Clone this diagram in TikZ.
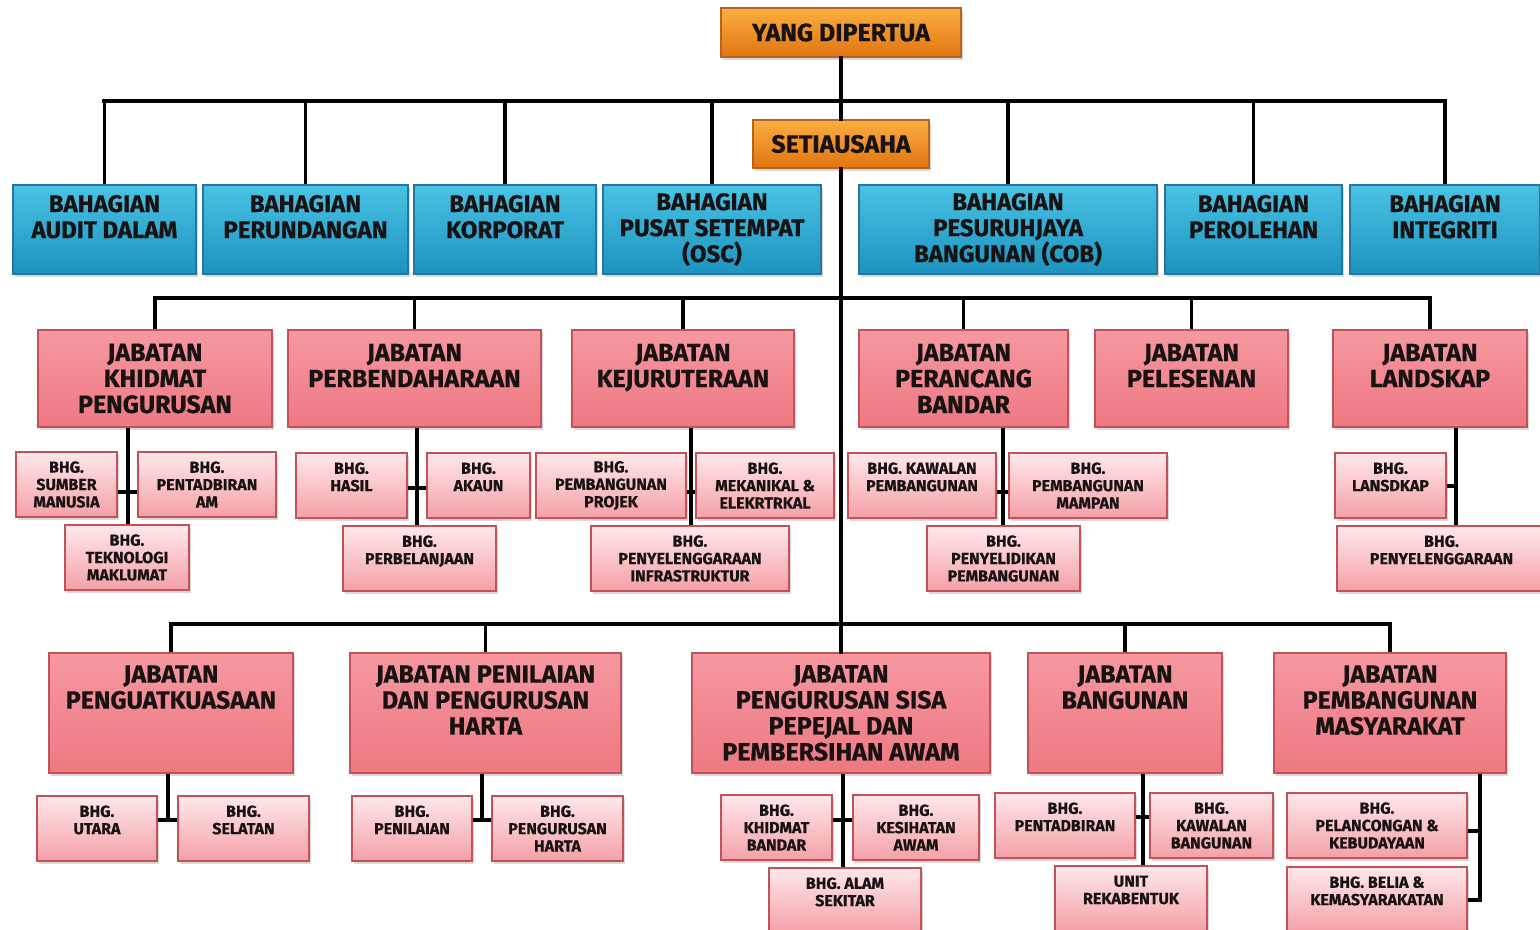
\documentclass[tikz,border=0pt]{standalone}
\usepackage{fontspec}
\setmainfont{Fira Sans}[BoldFeatures={FakeBold=0.6}]
\usetikzlibrary{calc,shadows}
\definecolor{oren1}{RGB}{250,174,64}
\definecolor{oren2}{RGB}{226,116,16}
\definecolor{orenb}{RGB}{186,98,28}
\definecolor{biru1}{RGB}{74,194,228}
\definecolor{biru2}{RGB}{28,146,190}
\definecolor{birub}{RGB}{38,118,156}
\definecolor{merah1}{RGB}{246,152,160}
\definecolor{merah2}{RGB}{238,120,130}
\definecolor{merahb}{RGB}{194,82,88}
\definecolor{jambu1}{RGB}{254,232,234}
\definecolor{jambu2}{RGB}{244,160,168}
\definecolor{teks}{RGB}{24,18,18}
\tikzset{
  kotak/.style={rectangle, draw, line width=0.8pt, inner sep=0pt, align=center, text=teks,
    drop shadow={shadow xshift=1.2pt, shadow yshift=-1.5pt, opacity=0.3}},
  ketua/.style={kotak, draw=orenb, top color=oren1, bottom color=oren2,
    font=\fontsize{12.5}{13}\selectfont\bfseries},
  bahagian/.style={kotak, draw=birub, top color=biru1, bottom color=biru2,
    font=\fontsize{12}{13}\selectfont\bfseries},
  jabatan/.style={kotak, draw=merahb, top color=merah1, bottom color=merah2,
    font=\fontsize{12.5}{13}\selectfont\bfseries},
  unitbox/.style={kotak, draw=merahb, top color=jambu1, bottom color=jambu2,
    font=\fontsize{8}{8.7}\selectfont\bfseries},
  garis/.style={line width=2.2pt, black, line cap=rect},
  cabang/.style={line width=1.6pt, black},
  sambung/.style={line width=2pt, black}
}
\begin{document}
\begin{tikzpicture}[x=0.5pt,y=-0.5pt]
\useasboundingbox (0,0) rectangle (1540,930);
%Koordinat dalam piksel gambar asal (y ke bawah)
\node[ketua, minimum width=120pt, minimum height=24.5pt] (ydp) at (841,32.5) {YANG DIPERTUA};
\node[ketua, minimum width=88pt, minimum height=24pt] (setia) at (841,144) {SETIAUSAHA};
%Bahagian
\foreach \nm/\xa/\xb/\txt in {b1/13/196/{BAHAGIAN\\AUDIT DALAM\\~}, b2/203/408/{BAHAGIAN\\PERUNDANGAN\\~},
  b3/414/596/{BAHAGIAN\\KORPORAT\\~}, b4/603/821/{BAHAGIAN\\PUSAT SETEMPAT\\(OSC)},
  b5/859/1157/{BAHAGIAN\\PESURUHJAYA\\BANGUNAN (COB)}, b6/1165/1342/{BAHAGIAN\\PEROLEHAN\\~},
  b7/1350/1540/{BAHAGIAN\\INTEGRITI\\~}}{
\node[bahagian, minimum width={(\xb-\xa)*0.5pt}, minimum height=44.5pt] (\nm) at ({(\xa+\xb)/2},229.5) {\txt};
}
%Jabatan baris 1
\foreach \nm/\xa/\xb/\txt in {j1/38/272/{JABATAN\\KHIDMAT\\PENGURUSAN}, j2/288/541/{JABATAN\\PERBENDAHARAAN\\~},
  j3/572/794/{JABATAN\\KEJURUTERAAN\\~}, j4/859/1068/{JABATAN\\PERANCANG\\BANDAR},
  j5/1095/1288/{JABATAN\\PELESENAN\\~}, j6/1333/1527/{JABATAN\\LANDSKAP\\~}}{
\node[jabatan, minimum width={(\xb-\xa)*0.5pt}, minimum height=48.5pt] (\nm) at ({(\xa+\xb)/2},378.5) {\txt};
}
%Jabatan baris 2
\foreach \nm/\xa/\xb/\txt in {k1/49/293/{JABATAN\\PENGUATKUASAAN\\~\\~}, k2/350/621/{JABATAN PENILAIAN\\DAN PENGURUSAN\\HARTA\\~},
  k3/692/990/{JABATAN\\PENGURUSAN SISA\\PEPEJAL DAN\\PEMBERSIHAN AWAM}, k4/1028/1222/{JABATAN\\BANGUNAN\\~\\~},
  k5/1274/1506/{JABATAN\\PEMBANGUNAN\\MASYARAKAT\\~}}{
\node[jabatan, minimum width={(\xb-\xa)*0.5pt}, minimum height=60pt] (\nm) at ({(\xa+\xb)/2},713) {\txt};
}
%Bahagian kecil (BHG.)
\foreach \nm/\xa/\ya/\xb/\yb/\txt in {
  s11/16/452/117/517/{BHG.\\SUMBER\\MANUSIA}, s12/138/452/276/517/{BHG.\\PENTADBIRAN\\AM},
  s13/65/525/189/590/{BHG.\\TEKNOLOGI\\MAKLUMAT},
  s21/296/453/407/518/{BHG.\\HASIL\\~}, s22/427/453/530/518/{BHG.\\AKAUN\\~},
  s23/343/526/496/591/{BHG.\\PERBELANJAAN\\~},
  s31/536/453/686/518/{BHG.\\PEMBANGUNAN\\PROJEK}, s32/696/453/834/518/{BHG.\\MEKANIKAL \&\\ELEKRTRKAL},
  s33/591/526/789/591/{BHG.\\PENYELENGGARAAN\\INFRASTRUKTUR},
  s41/848/453/996/518/{BHG. KAWALAN\\PEMBANGUNAN\\~}, s42/1009/453/1167/518/{BHG.\\PEMBANGUNAN\\MAMPAN},
  s43/927/526/1080/591/{BHG.\\PENYELIDIKAN\\PEMBANGUNAN},
  s61/1335/453/1446/518/{BHG.\\LANSDKAP\\~}, s63/1337/526/1546/591/{BHG.\\PENYELENGGARAAN\\~},
  t11/37/796/157/861/{BHG.\\UTARA\\~}, t12/178/796/309/861/{BHG.\\SELATAN\\~},
  t21/352/796/472/861/{BHG.\\PENILAIAN\\~}, t22/492/796/623/861/{BHG.\\PENGURUSAN\\HARTA},
  t31/721/795/832/860/{BHG.\\KHIDMAT\\BANDAR}, t32/853/795/979/860/{BHG.\\KESIHATAN\\AWAM},
  t33/769/868/921/933/{BHG. ALAM\\SEKITAR\\~},
  t41/995/793/1135/858/{BHG.\\PENTADBIRAN\\~}, t42/1150/793/1273/858/{BHG.\\KAWALAN\\BANGUNAN},
  t43/1055/866/1207/931/{UNIT\\REKABENTUK\\~},
  t51/1287/793/1467/858/{BHG.\\PELANCONGAN \&\\KEBUDAYAAN}, t52/1287/867/1467/932/{BHG. BELIA \&\\KEMASYARAKATAN\\~}}{
\node[unitbox, minimum width={(\xb-\xa)*0.5pt}, minimum height={(\yb-\ya)*0.5pt}] (\nm) at ({(\xa+\xb)/2},{(\ya+\yb)/2}) {\txt};
}
%Garisan utama
\draw[garis] (ydp) -- (setia);
\draw[garis] (setia) -- (k3);
\coordinate (atas) at (841,101);
\coordinate (tengah) at (841,298);
\coordinate (bawah) at (841,624);
\draw[garis] (b1.north |- atas) -- (b7.north |- atas);
\draw[garis] (j1.north |- tengah) -- (j6.north |- tengah);
\draw[garis] (k1.north |- bawah) -- (k5.north |- bawah);
\foreach \b in {b1,b2,b3,b4,b5,b6,b7} \draw[cabang] (\b.north) -- (\b.north |- atas);
\foreach \j in {j1,j2,j3,j4,j5,j6} \draw[cabang] (\j.north) -- (\j.north |- tengah);
\foreach \k in {k1,k2,k4,k5} \draw[cabang] (\k.north) -- (\k.north |- bawah);
%Cabang ke BHG.
\foreach \j/\a/\b/\ty in {j1/s11/s12/492, j2/s21/s22/488, j3/s31/s32/492, j4/s41/s42/492,
  k1/t11/t12/820, k2/t21/t22/820, k3/t31/t32/820, k4/t41/t42/817}{
  \coordinate (ty) at (0,\ty);
  \coordinate (m\j) at ($(\a.east)!0.5!(\b.west)$);
  \coordinate (sim\j) at (m\j |- ty);
  \draw[sambung] (\a.east |- ty) -- (\b.west |- ty);
}
\foreach \j/\z in {j1/s13, j2/s23, j3/s33, j4/s43, k3/t33, k4/t43} \draw[sambung] (m\j |- \j.south) -- (m\j |- \z.north);
\foreach \j in {k1,k2} \draw[sambung] (m\j |- \j.south) -- (sim\j);
\coordinate (sj6) at ($(j6.south)+(26,0)$);
\draw[sambung] (sj6) -- (sj6 |- s63.north);
\draw[sambung] (s61.east) -- (s61.east -| sj6);
\coordinate (sk5) at ($(k5.south)+(90,0)$);
\coordinate (p51) at ([yshift=-2.75pt]t51.east);
\draw[sambung] (sk5) |- (t52.east);
\draw[sambung] (p51) -- (p51 -| sk5);
\end{tikzpicture}
\end{document}
